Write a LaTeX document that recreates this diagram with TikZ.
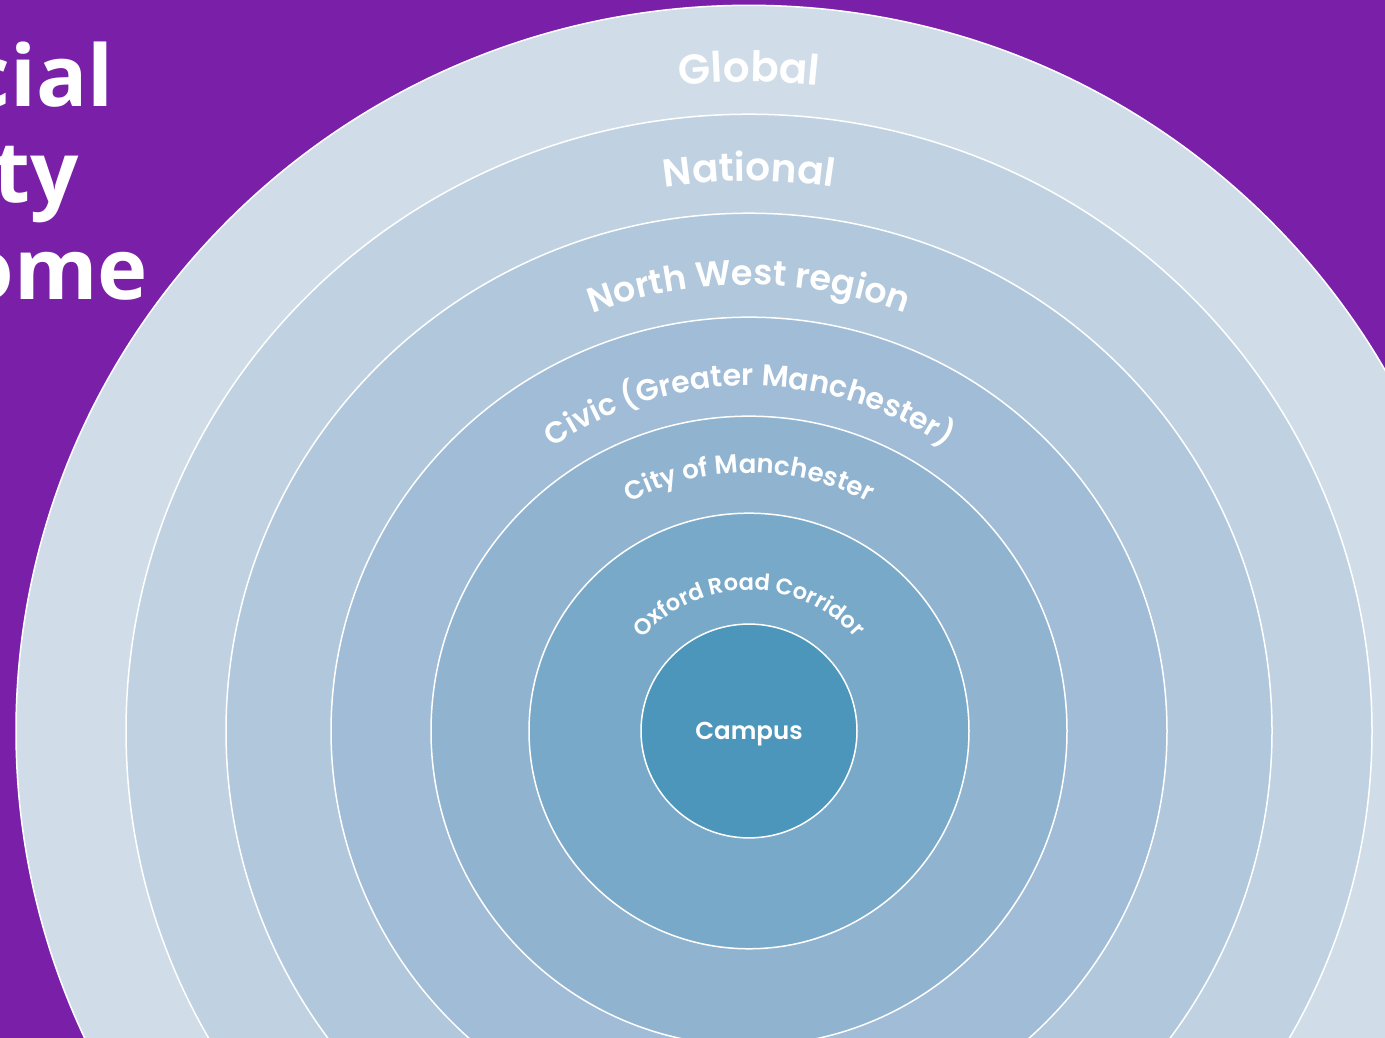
\documentclass[tikz,border=0pt]{standalone}
\usepackage{fontspec}
\usetikzlibrary{decorations.text}
\setmainfont{Open Sans}
\newfontfamily\ringfont{Poppins}[UprightFont=*-SemiBold]

\definecolor{bgpurple}{HTML}{7A20A8}
\definecolor{ringglobal}{HTML}{D0DDE8}
\definecolor{ringnational}{HTML}{C0D2E2}
\definecolor{ringregion}{HTML}{B0C7DC}
\definecolor{ringcivic}{HTML}{A0BCD6}
\definecolor{ringcity}{HTML}{90B4D0}
\definecolor{ringoxford}{HTML}{79A9C9}
\definecolor{ringcampus}{HTML}{4D96BB}

\tikzset{
  ringlabel/.style={decorate, decoration={text along path, text align=center}},
  sidetitle/.style={anchor=base east, inner sep=0pt, text=white, font=\fontsize{85}{90}\selectfont\bfseries}
}

\begin{document}
\begin{tikzpicture}[x=1pt,y=1pt]
	%\draw[help lines, gray!30] (0,0) grid[step=100] (1385,1038);
	\useasboundingbox (0,0) rectangle (1385,1038);
	\fill[bgpurple] (0,0) rectangle (1385,1038);
	\clip (0,0) rectangle (1385,1038);
	
	% title, cut off at the left edge
	\node[sidetitle] (tline1) at (114,931) {cial};
	\node[sidetitle] (tline2) at (79,835) {ty};
	\node[sidetitle] (tline3) at (148,738) {ome};
	
	% the rings, outermost first
	\coordinate (c) at (749,307);
	\foreach \r/\col in {733/ringglobal, 623/ringnational, 523/ringregion, 418/ringcivic, 318/ringcity, 220/ringoxford, 108/ringcampus}
	\draw[white, line width=1.5pt, fill=\col] (c) ellipse [x radius=\r, y radius=0.99*\r];
	
	% labels along the rings
	\begin{scope}[shift={(c)}]
	\path[ringlabel, decoration={text={|\ringfont\fontsize{42}{48}\selectfont\color{white}|Global}}]
	  (175:649) arc[start angle=175, end angle=5, radius=649];
	\path[ringlabel, decoration={text={|\ringfont\fontsize{39}{45}\selectfont\color{white}|National}}]
	  (175:550) arc[start angle=175, end angle=5, radius=550];
	\path[ringlabel, decoration={text={|\ringfont\fontsize{35}{40}\selectfont\color{white}|North West region}}]
	  (175:446) arc[start angle=175, end angle=5, radius=446];
	\path[ringlabel, decoration={text={|\ringfont\fontsize{30}{36}\selectfont\color{white}|Civic (Greater Manchester)}}]
	  (175:345) arc[start angle=175, end angle=5, radius=345];
	\path[ringlabel, decoration={text={|\ringfont\fontsize{26}{30}\selectfont\color{white}|City of Manchester}}]
	  (175:258) arc[start angle=175, end angle=5, radius=258];
	\path[ringlabel, decoration={text={|\ringfont\fontsize{22.5}{26}\selectfont\color{white}|Oxford Road Corridor}}]
	  (175:141) arc[start angle=175, end angle=5, radius=141];
	\end{scope}
	
	\node[text=white, font=\ringfont\fontsize{24.5}{28}\selectfont, yshift=-3pt] (campus) at (c) {Campus};
	
\end{tikzpicture}
\end{document}
